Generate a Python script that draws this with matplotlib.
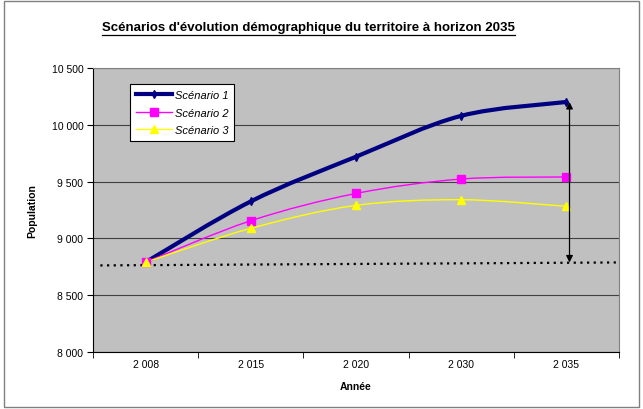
import numpy as np
import matplotlib
matplotlib.use('Agg')
import matplotlib.pyplot as plt
from matplotlib.path import Path
from matplotlib.patches import PathPatch, Rectangle
from matplotlib.lines import Line2D

plt.rcParams['font.family'] = ['Liberation Sans', 'DejaVu Sans']

# Donnees
annees = ['2 008', '2 015', '2 020', '2 030', '2 035']
scenario1 = [8790, 9325, 9718, 10078, 10200]
scenario2 = [8790, 9155, 9395, 9522, 9540]
scenario3 = [8790, 9088, 9290, 9340, 9282]
tendance = [8762, 8788]          # ligne pointillee (debut, fin)
yticks = [8000, 8500, 9000, 9500, 10000, 10500]


def courbe_lissee(x, y):
    # courbe de Bezier passant par les points (lissage type Excel)
    pts = np.column_stack([x, y]).astype(float)
    verts = [pts[0]]
    codes = [Path.MOVETO]
    n = len(pts)
    for i in range(n - 1):
        p0 = pts[i - 1] if i > 0 else pts[i]
        p1 = pts[i]
        p2 = pts[i + 1]
        p3 = pts[i + 2] if i + 2 < n else pts[i + 1]
        c1 = p1 + (p2 - p0) / 6.0
        c2 = p2 - (p3 - p1) / 6.0
        verts += [c1, c2, p2]
        codes += [Path.CURVE4] * 3
    return Path(verts, codes)


fig = plt.figure(figsize=(6.43, 4.10), dpi=100)
fig.patches.append(Rectangle((0.006, 0.006), 0.988, 0.988, transform=fig.transFigure,
                             fill=False, edgecolor='#808080', lw=1))
ax = fig.add_axes([0.1446, 0.139, 0.818, 0.693])
ax.set_facecolor('#C0C0C0')

x = np.arange(len(annees))
series = [
    ('Scénario 1', scenario1, '#000080', 3.0, 'd', 4, '#000080'),
    ('Scénario 2', scenario2, '#FF00FF', 1.0, 's', 6, '#FF00FF'),
    ('Scénario 3', scenario3, '#FFFF00', 1.0, '^', 6, '#FFFF00'),
]
handles = []
for nom, vals, col, lw, mk, ms, mc in series:
    ax.add_patch(PathPatch(courbe_lissee(x, vals), fill=False, edgecolor=col, lw=lw,
                           zorder=3, capstyle='round'))
    ax.plot(x, vals, linestyle='none', marker=mk, markersize=ms, color=mc, zorder=4)
    handles.append(Line2D([], [], color=col, lw=lw, marker=mk, markersize=ms, label=nom))

# ligne pointillee et fleche
ax.plot([-0.43, 4.5], tendance, linestyle=(0, (1, 2)), color='black', lw=1.6, zorder=3)
ax.annotate('', xy=(4.03, tendance[1]), xytext=(4.03, scenario1[-1]),
            arrowprops=dict(arrowstyle='<|-|>', color='black', lw=0.9,
                            mutation_scale=10, shrinkA=0, shrinkB=0), zorder=5)

ax.set_xlim(-0.5, 4.5)
ax.set_ylim(8000, 10500)
ax.set_yticks(yticks)
ax.set_yticklabels([f'{v:,}'.replace(',', ' ') for v in yticks], fontsize=7.5)
ax.set_xticks(x)
ax.set_xticklabels(annees, fontsize=7.5)
ax.tick_params(axis='x', length=0, pad=5)
ax.set_xticks(np.arange(-0.5, 5, 1), minor=True)
ax.tick_params(axis='x', which='minor', length=4, direction='out', color='black')
ax.tick_params(axis='y', length=4, direction='out', color='black', pad=3)
ax.grid(axis='y', color='#404040', lw=0.8)
ax.set_axisbelow(True)
for s in ['top', 'right']:
    ax.spines[s].set_color('#808080')
for s in ['left', 'bottom']:
    ax.spines[s].set_color('black')

ax.set_xlabel('Année', fontsize=7.5, fontweight='bold', labelpad=9)
ax.set_ylabel('Population', fontsize=7.5, fontweight='bold', labelpad=10)

leg = ax.legend(handles=handles, loc='upper left', bbox_to_anchor=(0.06, 0.962),
                prop={'style': 'italic', 'size': 8}, frameon=True,
                fancybox=False, edgecolor='black', framealpha=1, handlelength=3.3,
                borderpad=0.5, labelspacing=0.7, handletextpad=0.2)
leg.get_frame().set_linewidth(0.8)

titre = fig.text(0.48, 0.925, "Scénarios d'évolution démographique du territoire à horizon 2035",
                 ha='center', va='baseline', fontsize=9.5, fontweight='bold')
fig.canvas.draw()
bb = titre.get_window_extent().transformed(fig.transFigure.inverted())
fig.lines.append(Line2D([bb.x0, bb.x1], [bb.y0 - 0.006, bb.y0 - 0.006], color='black',
                        lw=0.9, transform=fig.transFigure))

fig.savefig('out.png', dpi=100)
